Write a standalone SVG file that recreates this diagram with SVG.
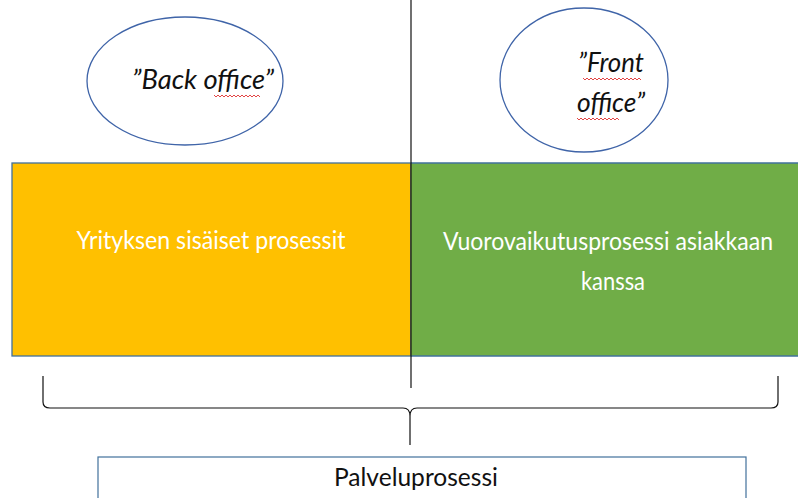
<svg xmlns="http://www.w3.org/2000/svg" width="798" height="498" viewBox="0 0 798 498">
  <style>
    .ell { fill: #ffffff; stroke: #3f64a8; stroke-width: 1.3; }
    .lbl-i { font-family: Lato, "Open Sans", sans-serif; font-style: italic; font-size: 27px; fill: #111111; text-anchor: middle; }
    .lbl-w { font-family: Lato, "Open Sans", sans-serif; font-size: 25px; fill: #ffffff; text-anchor: middle; }
    .lbl-k { font-family: Lato, "Open Sans", sans-serif; font-size: 25px; fill: #111111; text-anchor: middle; }
    .blk { fill: none; stroke: #111111; stroke-width: 1.2; }
    .squig { fill: none; stroke: #e03030; stroke-width: 0.9; }
  </style>

  <rect width="798" height="498" fill="#ffffff"/>

  <!-- process blocks -->
  <g id="internal">
    <rect x="12" y="163" width="399" height="193" fill="#ffc000" stroke="#41719c" stroke-width="1.3"/>
    <text class="lbl-w" x="211" y="249" textLength="269" lengthAdjust="spacingAndGlyphs">Yrityksen sisäiset prosessit</text>
  </g>
  <g id="interaction">
    <!-- block runs to the right edge; its top and bottom borders are drawn separately -->
    <rect x="411" y="163" width="387" height="193" fill="#70ad47"/>
    <path d="M411 163 H798 M411 356 H798" fill="none" stroke="#41719c" stroke-width="1.3"/>
    <text class="lbl-w" x="608" y="250" textLength="330" lengthAdjust="spacingAndGlyphs">Vuorovaikutusprosessi asiakkaan</text>
    <text class="lbl-w" x="613" y="290" textLength="64" lengthAdjust="spacingAndGlyphs">kanssa</text>
  </g>

  <!-- labels above the blocks -->
  <g id="back-office">
    <ellipse class="ell" cx="185" cy="81" rx="98" ry="64"/>
    <text class="lbl-i" x="203" y="89" textLength="142" lengthAdjust="spacingAndGlyphs">”Back office”</text>
    <path class="squig" d="M214 95 l2 2 l2 -2 l2 2 l2 -2 l2 2 l2 -2 l2 2 l2 -2 l2 2 l2 -2 l2 2 l2 -2 l2 2 l2 -2 l2 2 l2 -2 l2 2 l2 -2 l2 2 l2 -2 l2 2 l2 -2 l2 2"/>
  </g>
  <g id="front-office">
    <ellipse class="ell" cx="584" cy="80" rx="84" ry="72"/>
    <text class="lbl-i" x="611" y="72" textLength="66" lengthAdjust="spacingAndGlyphs">”Front</text>
    <text class="lbl-i" x="611" y="112" textLength="68" lengthAdjust="spacingAndGlyphs">office”</text>
    <path class="squig" d="M583 78 l2 2 l2 -2 l2 2 l2 -2 l2 2 l2 -2 l2 2 l2 -2 l2 2 l2 -2 l2 2 l2 -2 l2 2 l2 -2 l2 2 l2 -2 l2 2 l2 -2 l2 2 l2 -2 l2 2 l2 -2 l2 2 l2 -2 l2 2 l2 -2 l2 2 l2 -2 l2 2"/>
    <path class="squig" d="M577 118 l2 2 l2 -2 l2 2 l2 -2 l2 2 l2 -2 l2 2 l2 -2 l2 2 l2 -2 l2 2 l2 -2 l2 2 l2 -2 l2 2 l2 -2 l2 2 l2 -2 l2 2 l2 -2 l2 2"/>
  </g>

  <!-- divider and brace -->
  <g id="connectors">
    <line class="blk" x1="411" y1="0" x2="411" y2="388"/>
    <path class="blk" d="M43 376 L43 402 Q43 408 50 408 L403 408 Q410 408 410 416 L410 445 M410 416 Q410 408 417 408 L771 408 Q778 408 778 402 L778 376"/>
  </g>

  <!-- total -->
  <g id="service-process">
    <rect x="98" y="457" width="648" height="60" fill="#ffffff" stroke="#41719c" stroke-width="1.2"/>
    <text class="lbl-k" x="416" y="486" textLength="164" lengthAdjust="spacingAndGlyphs">Palveluprosessi</text>
  </g>
</svg>
